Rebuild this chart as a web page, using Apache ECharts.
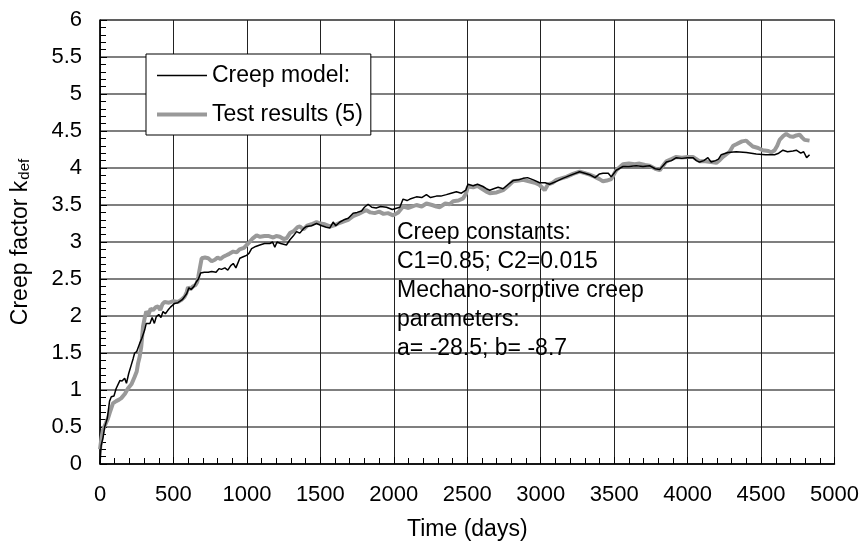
<!DOCTYPE html>
<html>
<head>
<meta charset="utf-8">
<script src="https://cdn.jsdelivr.net/npm/echarts@6/dist/echarts.min.js"></script>
<style>html,body{margin:0;padding:0;background:#fff}#c{width:862px;height:551px}</style>
</head>
<body>
<div id="c"></div>
<script>
const xTicks = [0,500,1000,1500,2000,2500,3000,3500,4000,4500,5000];
const yTicks = [0,0.5,1,1.5,2,2.5,3,3.5,4,4.5,5,5.5,6];

const modelName = 'Creep model:';
const modelT = [0,8,20,32,50,65,77,95,110,122,136,150,168,180,195,213,225,236,250,270,285,304,315,327,340,355,370,383,400,415,429,445,463,480,508,530,560,590,605,620,640,655,670,685,692,710,737,760,790,810,827,850,870,890,907,925,952,975,998,1015,1032,1060,1088,1120,1156,1175,1190,1205,1230,1269,1293,1315,1338,1360,1385,1406,1440,1474,1510,1540,1565,1587,1605,1633,1660,1690,1723,1750,1780,1800,1825,1850,1880,1910,1950,1990,2041,2063,2090,2110,2154,2190,2222,2250,2290,2320,2358,2390,2426,2460,2490,2505,2540,2570,2607,2630,2653,2680,2710,2744,2780,2812,2850,2880,2910,2950,2993,3030,3060,3107,3150,3200,3265,3300,3333,3370,3400,3424,3460,3480,3514,3560,3600,3650,3696,3741,3780,3810,3855,3890,3923,3960,4000,4036,4060,4082,4110,4138,4160,4190,4210,4229,4274,4331,4400,4467,4530,4592,4620,4649,4680,4717,4740,4770,4790,4810,4830];
const modelK = [0.00,0.25,0.35,0.50,0.62,0.85,0.91,0.92,1.02,1.04,1.13,1.12,1.16,1.09,1.22,1.34,1.42,1.50,1.52,1.63,1.70,1.81,1.90,1.92,1.90,1.98,1.90,1.99,2.02,1.98,2.06,2.03,2.08,2.12,2.17,2.18,2.22,2.30,2.38,2.36,2.40,2.46,2.50,2.58,2.60,2.59,2.59,2.60,2.59,2.64,2.63,2.65,2.62,2.68,2.71,2.65,2.78,2.80,2.82,2.85,2.91,2.94,2.96,2.98,2.98,3.00,2.93,3.00,2.98,2.96,3.03,3.08,3.14,3.12,3.18,3.21,3.22,3.25,3.22,3.20,3.19,3.27,3.22,3.27,3.30,3.32,3.39,3.40,3.42,3.47,3.51,3.47,3.46,3.48,3.47,3.44,3.47,3.58,3.56,3.58,3.61,3.60,3.64,3.60,3.62,3.62,3.64,3.66,3.68,3.66,3.70,3.78,3.76,3.78,3.75,3.72,3.70,3.72,3.74,3.72,3.78,3.83,3.84,3.86,3.87,3.84,3.80,3.80,3.78,3.82,3.86,3.90,3.95,3.93,3.91,3.87,3.92,3.93,3.93,3.88,3.97,4.02,4.02,4.03,4.02,4.03,3.99,3.98,4.08,4.10,4.14,4.13,4.14,4.14,4.10,4.08,4.10,4.14,4.08,4.10,4.12,4.18,4.21,4.22,4.21,4.19,4.18,4.18,4.20,4.24,4.22,4.23,4.24,4.20,4.22,4.14,4.18];

const testName = 'Test results (5)';
const testT = [0,10,20,40,55,66,88,110,130,145,170,190,215,236,250,259,270,281,293,305,315,330,345,361,380,395,410,425,440,470,500,530,555,576,590,599,615,633,650,662,669,680,692,715,737,760,782,800,820,839,860,880,907,930,950,980,1009,1040,1066,1090,1120,1150,1180,1200,1224,1250,1270,1293,1320,1345,1361,1385,1410,1440,1474,1500,1530,1565,1600,1633,1660,1689,1723,1760,1790,1814,1840,1870,1900,1930,1960,1995,2030,2063,2100,2154,2190,2222,2260,2290,2313,2350,2380,2404,2440,2472,2490,2505,2540,2570,2600,2630,2653,2700,2744,2780,2812,2850,2880,2920,2960,2993,3027,3050,3080,3107,3140,3175,3220,3265,3300,3333,3370,3400,3424,3450,3480,3514,3560,3600,3640,3673,3710,3741,3780,3810,3840,3855,3890,3923,3960,4000,4036,4060,4082,4120,4160,4195,4220,4240,4286,4310,4331,4370,4399,4420,4444,4480,4512,4550,4570,4592,4610,4626,4650,4671,4695,4717,4740,4762,4780,4796,4830];
const testK = [0.20,0.35,0.46,0.55,0.62,0.69,0.82,0.85,0.87,0.89,0.95,1.02,1.08,1.18,1.25,1.36,1.45,1.59,1.86,1.98,2.06,2.02,2.10,2.08,2.12,2.13,2.08,2.16,2.19,2.18,2.20,2.19,2.22,2.26,2.32,2.39,2.36,2.40,2.42,2.46,2.53,2.65,2.78,2.79,2.78,2.74,2.76,2.79,2.77,2.80,2.82,2.84,2.87,2.86,2.90,2.92,2.98,3.05,3.09,3.07,3.08,3.08,3.06,3.08,3.07,3.04,3.05,3.12,3.15,3.20,3.21,3.17,3.22,3.24,3.27,3.25,3.24,3.21,3.23,3.26,3.28,3.30,3.35,3.38,3.41,3.43,3.40,3.39,3.41,3.38,3.39,3.36,3.40,3.48,3.46,3.50,3.48,3.52,3.50,3.48,3.47,3.52,3.51,3.55,3.56,3.59,3.65,3.75,3.74,3.76,3.72,3.68,3.66,3.67,3.70,3.76,3.82,3.83,3.84,3.82,3.80,3.77,3.70,3.78,3.80,3.84,3.86,3.88,3.92,3.95,3.93,3.91,3.88,3.85,3.82,3.83,3.85,3.97,4.05,4.06,4.05,4.06,4.04,4.03,3.99,3.97,4.05,4.09,4.12,4.15,4.14,4.15,4.15,4.12,4.09,4.09,4.08,4.07,4.11,4.15,4.22,4.30,4.32,4.36,4.37,4.33,4.29,4.27,4.24,4.23,4.21,4.24,4.30,4.38,4.43,4.46,4.43,4.42,4.44,4.45,4.41,4.38,4.37];

const noteLines = ['Creep constants:', 'C1=0.85; C2=0.015', 'Mechano-sorptive creep', 'parameters:', 'a= -28.5; b= -8.7'];

const FONT = '"Liberation Sans", Arial, sans-serif';
const pairs = (t, k) => t.map((v, i) => [v, k[i]]);

const chart = echarts.init(document.getElementById('c'), null, {renderer: 'canvas'});
chart.setOption({
  animation: false,
  backgroundColor: '#fff',
  textStyle: {fontFamily: FONT},
  grid: {left: 100, right: 27, top: 20, bottom: 87, show: true, borderColor: '#000', borderWidth: 1, backgroundColor: 'transparent'},
  xAxis: {
    type: 'value', min: xTicks[0], max: xTicks[xTicks.length - 1], interval: xTicks[1] - xTicks[0],
    name: 'Time (days)', nameLocation: 'middle', nameGap: 54,
    nameTextStyle: {fontSize: 23, color: '#000', fontFamily: FONT},
    axisLine: {lineStyle: {color: '#000', width: 1.5}},
    axisTick: {show: true, inside: true, length: 7, lineStyle: {color: '#000'}},
    minorTick: {show: true, splitNumber: 5, length: 6, lineStyle: {color: '#000'}},
    splitLine: {show: true, lineStyle: {color: '#222', width: 1}},
    axisLabel: {fontSize: 22, color: '#000', margin: 20, fontFamily: FONT, formatter: v => String(v)}
  },
  yAxis: {
    type: 'value', min: yTicks[0], max: yTicks[yTicks.length - 1], interval: yTicks[1] - yTicks[0],
    name: '{m|Creep factor k}{s|def}', nameLocation: 'middle', nameGap: 68, nameRotate: 90,
    nameTextStyle: {color: '#000', fontFamily: FONT, rich: {m: {fontSize: 23, color: '#000', fontFamily: FONT}, s: {fontSize: 15, color: '#000', fontFamily: FONT, verticalAlign: 'bottom', padding: [0,0,0,1]}}},
    axisLine: {lineStyle: {color: '#000', width: 1.5}},
    axisTick: {show: true, inside: true, length: 7, lineStyle: {color: '#000'}},
    minorTick: {show: true, splitNumber: 5, length: 6, lineStyle: {color: '#000'}},
    splitLine: {show: true, lineStyle: {color: '#555', width: 1.5}},
    axisLabel: {fontSize: 22, color: '#000', margin: 18, fontFamily: FONT, formatter: v => String(v)}
  },
  legend: {
    show: true, orient: 'vertical', left: 146, top: 54,
    padding: [10, 8, 9, 9], itemGap: 16, itemWidth: 50, itemHeight: 14,
    backgroundColor: '#fff', borderColor: '#000', borderWidth: 1, borderRadius: 0,
    textStyle: {fontSize: 23, color: '#000', fontFamily: FONT},
    itemStyle: {opacity: 0},
    data: [
      {name: modelName, itemStyle: {opacity: 0}, lineStyle: {width: 1.5, color: '#000'}},
      {name: testName, itemStyle: {opacity: 0}, lineStyle: {width: 4, color: '#999999'}}
    ]
  },
  graphic: [{
    type: 'text', left: 397, top: 218, z: 100,
    style: {text: noteLines.join('\n'), font: '23px ' + FONT, fill: '#000', lineHeight: 29}
  }],
  series: [
    {name: testName, type: 'line', data: pairs(testT, testK), showSymbol: false, symbol: 'none',
     lineStyle: {color: '#999999', width: 4}, itemStyle: {color: '#999999'}, z: 2},
    {name: modelName, type: 'line', data: pairs(modelT, modelK), showSymbol: false, symbol: 'none',
     lineStyle: {color: '#000', width: 1.5}, itemStyle: {color: '#000'}, z: 3}
  ]
});
</script>
</body>
</html>
